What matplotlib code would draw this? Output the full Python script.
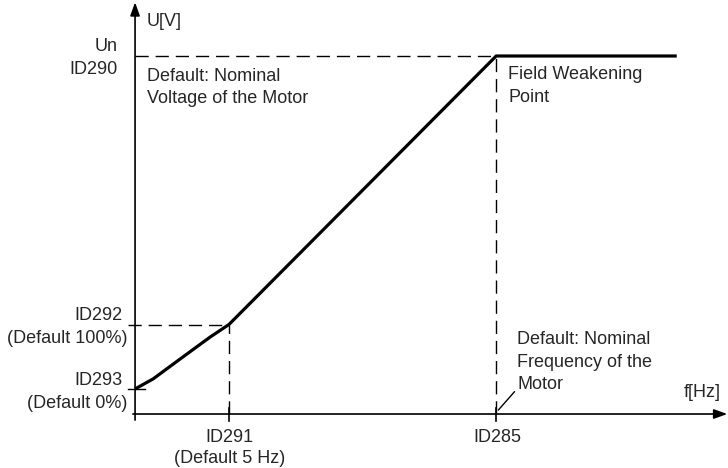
import matplotlib
matplotlib.use("Agg")
import matplotlib.pyplot as plt

plt.rcParams['font.family'] = ['Liberation Sans', 'DejaVu Sans']

# U/f curve (schematic units: f in Hz, U in % of Un)
f_curve = [0, 2.5, 6.6, 10.4, 13, 50, 75]
u_curve = [7, 9.8, 15.9, 21.5, 25, 100, 100]

f_id291 = 13     # zero frequency voltage breakpoint
f_id285 = 50     # field weakening point
u_id293 = 7      # voltage at zero frequency
u_id292 = 25     # midpoint voltage
u_un = 100       # nominal voltage

f_axis_max = 82
u_axis_max = 115

txt = '#262626'
fs = 13

fig = plt.figure(figsize=(7.28, 4.68), dpi=100)
ax = fig.add_axes([0, 0, 1, 1])
ax.set_xlim(-18.7, 82.1)
ax.set_ylim(-15.08, 115.64)
ax.axis('off')

dash = (0, (9.5, 5))

# axes with arrows
ax.annotate('', xy=(f_axis_max, 0), xytext=(-0.3, 0),
            arrowprops=dict(arrowstyle='-|>,head_length=0.5,head_width=0.18', lw=1.2,
                            color='k', mutation_scale=16, shrinkA=0, shrinkB=0))
ax.annotate('', xy=(0, u_axis_max), xytext=(0, -1.7),
            arrowprops=dict(arrowstyle='-|>,head_length=0.5,head_width=0.18', lw=1.2,
                            color='k', mutation_scale=16, shrinkA=0, shrinkB=0))

# guide lines
ax.plot([0, f_id285], [u_un, u_un], color='k', lw=1.0, linestyle=dash)
ax.plot([-1, f_id291], [u_id292, u_id292], color='k', lw=1.0, linestyle=dash)
ax.plot([f_id291, f_id291], [0, u_id292], color='k', lw=1.0, linestyle=dash)
ax.plot([f_id285, f_id285], [0, u_un], color='k', lw=1.0, linestyle=dash)
ax.plot([-1, 1.4], [u_id293, u_id293], color='k', lw=1.0)

# x ticks
for fx in (f_id291, f_id285):
    ax.plot([fx, fx], [-1.9, 1.7], color='k', lw=1.2)

# the curve
ax.plot(f_curve, u_curve, color='k', lw=2.3, solid_capstyle='butt',
        solid_joinstyle='round')

def lbl(s, xy, dx, dy, ha='left'):
    ax.annotate(s, xy=xy, xytext=(dx, dy), textcoords='offset pixels',
                ha=ha, va='center', fontsize=fs, color=txt)

# y axis labels
lbl('U[V]', (0, u_axis_max), 12, -19)
lbl('Un', (0, u_un), -17, 9, 'right')
lbl('ID290', (0, u_un), -17, -14, 'right')
lbl('ID292', (0, u_id292), -13, 9, 'right')
lbl('(Default 100%)', (0, u_id292), -8, -14, 'right')
lbl('ID293', (0, u_id293), -13, 8, 'right')
lbl('(Default 0%)', (0, u_id293), -8, -15, 'right')

# x axis labels
lbl('f[Hz]', (f_axis_max, 0), -7, 22, 'right')
lbl('ID291', (f_id291, 0), 0, -23, 'center')
lbl('(Default 5 Hz)', (f_id291, 0), 1, -44, 'center')
lbl('ID285', (f_id285, 0), 1, -23, 'center')

# notes
lbl('Default: Nominal', (0, u_un), 12, -21)
lbl('Voltage of the Motor', (0, u_un), 12, -43)
lbl('Field Weakening', (f_id285, u_un), 12, -19)
lbl('Point', (f_id285, u_un), 12, -42)

ax.annotate('Default: Nominal\nFrequency of the\nMotor', xy=(f_id285 + 0.3, 1.1),
            xytext=(19, 48), textcoords='offset pixels', ha='left', va='center',
            fontsize=fs, color=txt, linespacing=1.4,
            arrowprops=dict(arrowstyle='-', lw=1.0, color='k', shrinkA=0, shrinkB=0,
                            relpos=(0, 0.07)))

fig.savefig('out.png', dpi=100, facecolor='white')
